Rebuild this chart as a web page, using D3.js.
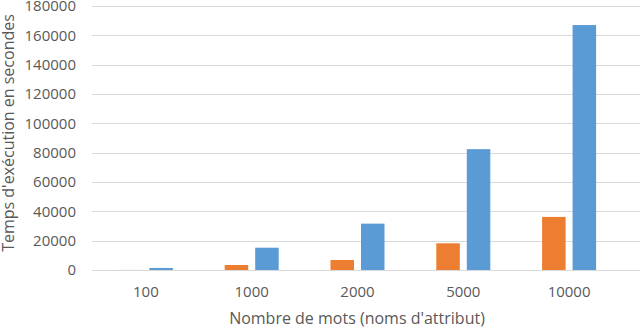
<!DOCTYPE html>
<html>
<head>
<meta charset="utf-8">
<script src="https://cdn.jsdelivr.net/npm/d3@7"></script>
<style>
  body { margin: 0; background: #fff; }
  text { font-family: "Open Sans", sans-serif; fill: #595959; }
</style>
</head>
<body>
<div id="chart"></div>
<script>
// values
const categories = ['100', '1000', '2000', '5000', '10000'];
const orangeValues = [50, 3400, 6800, 18200, 36200];
const blueValues = [1400, 15200, 31600, 82400, 167000];
const yTicks = [0, 20000, 40000, 60000, 80000, 100000, 120000, 140000, 160000, 180000];

const width = 640, height = 329;
const margin = {top: 6, right: 18, bottom: 59, left: 93};

const svg = d3.select('#chart').append('svg')
  .attr('width', width)
  .attr('height', height);

const x = d3.scaleBand()
  .domain(categories)
  .range([margin.left, width - margin.right]);

const y = d3.scaleLinear()
  .domain([0, 180000])
  .range([height - margin.bottom, margin.top]);

// gridlines
svg.append('g')
  .selectAll('line')
  .data(yTicks)
  .join('line')
  .attr('x1', margin.left - 1)
  .attr('x2', width)
  .attr('y1', d => Math.round(y(d)) + 0.5)
  .attr('y2', d => Math.round(y(d)) + 0.5)
  .attr('stroke', '#d9d9d9')
  .attr('stroke-width', 1);

// y tick labels
svg.append('g')
  .selectAll('text')
  .data(yTicks)
  .join('text')
  .attr('x', 76)
  .attr('y', d => y(d))
  .attr('dy', '0.35em')
  .attr('text-anchor', 'end')
  .attr('font-size', 15)
  .text(d => d);

const barW = 23.5, gap = 7;
const series = [
  {values: orangeValues, color: '#ed7d31', offset: -gap / 2 - barW},
  {values: blueValues, color: '#5b9bd5', offset: gap / 2}
];

series.forEach(s => {
  svg.append('g')
    .selectAll('rect')
    .data(categories)
    .join('rect')
    .attr('x', d => x(d) + x.bandwidth() / 2 + s.offset)
    .attr('y', (d, i) => y(s.values[i]))
    .attr('width', barW)
    .attr('height', (d, i) => y(0) - y(s.values[i]))
    .attr('fill', s.color);
});

// x tick labels
svg.append('g')
  .selectAll('text')
  .data(categories)
  .join('text')
  .attr('x', d => x(d) + x.bandwidth() / 2)
  .attr('y', 297)
  .attr('text-anchor', 'middle')
  .attr('font-size', 15)
  .text(d => d);

// axis titles
svg.append('text')
  .attr('x', 357)
  .attr('y', 324)
  .attr('text-anchor', 'middle')
  .attr('font-size', 16)
  .text("Nombre de mots (noms d'attribut)");

svg.append('text')
  .attr('transform', 'translate(14,133) rotate(-90)')
  .attr('text-anchor', 'middle')
  .attr('font-size', 16)
  .text("Temps d'exécution en secondes");
</script>
</body>
</html>
